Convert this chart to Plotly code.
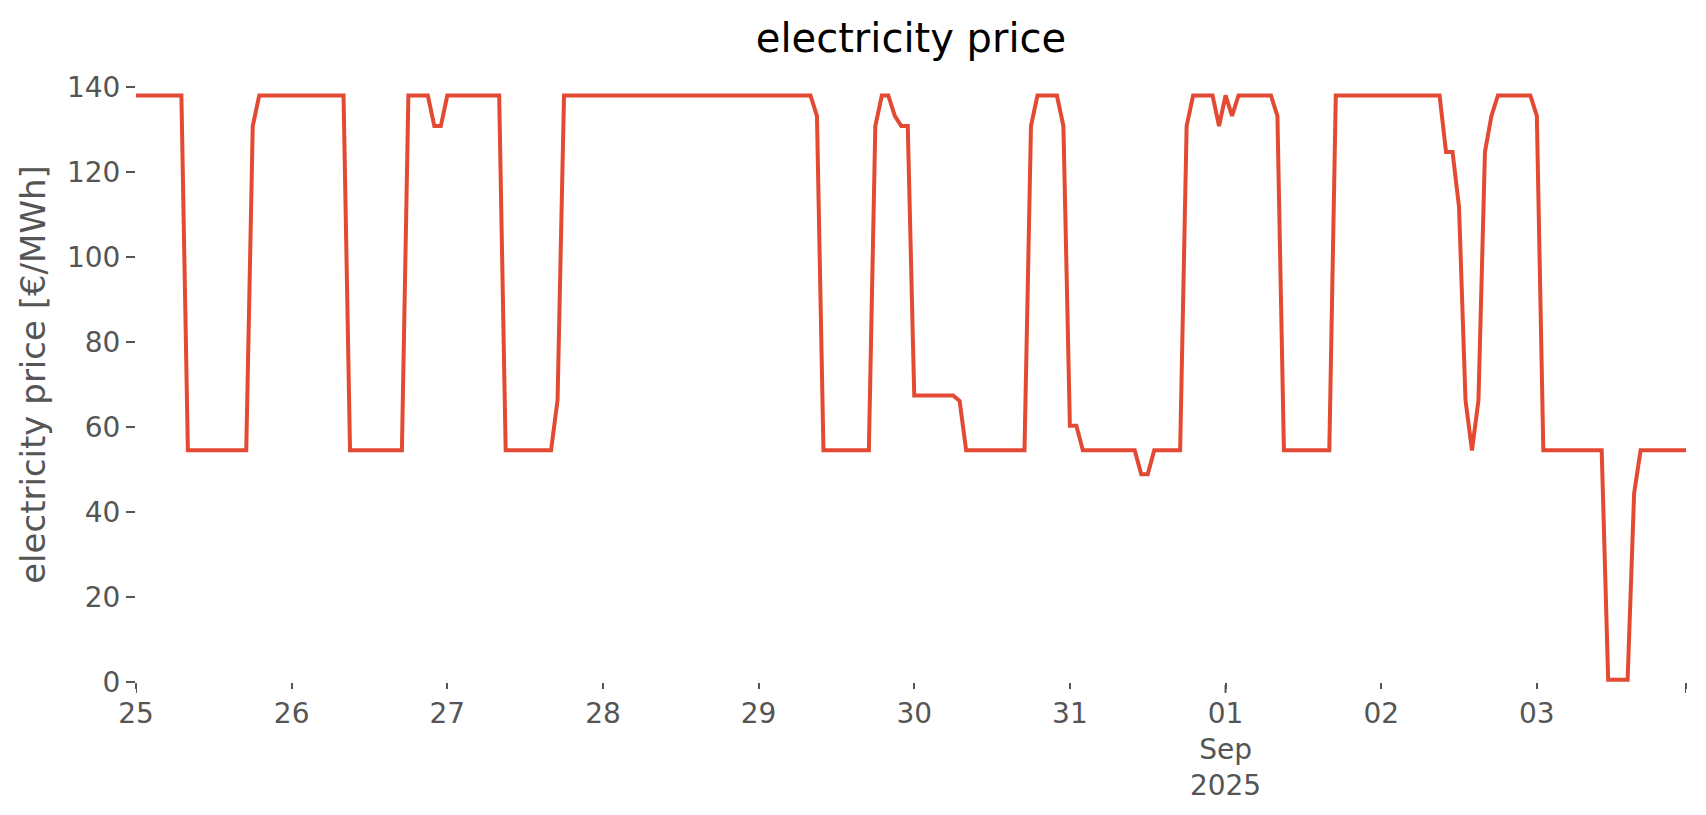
import pandas as pd
import plotly.graph_objects as go

# hourly electricity price, 25 Aug 2025 00:00 .. 03 Sep 2025 23:00 (one row per day, 24 hours)
start = "2025-08-25 00:00"
price_aug25 = [138, 138, 138, 138, 138, 138, 138, 138, 54.5, 54.5, 54.5, 54.5,
               54.5, 54.5, 54.5, 54.5, 54.5, 54.5, 130.8, 138, 138, 138, 138, 138]
price_aug26 = [138, 138, 138, 138, 138, 138, 138, 138, 138, 54.5, 54.5, 54.5,
               54.5, 54.5, 54.5, 54.5, 54.5, 54.5, 138, 138, 138, 138, 130.8, 130.8]
price_aug27 = [138, 138, 138, 138, 138, 138, 138, 138, 138, 54.5, 54.5, 54.5,
               54.5, 54.5, 54.5, 54.5, 54.5, 66.3, 138, 138, 138, 138, 138, 138]
price_aug28 = [138, 138, 138, 138, 138, 138, 138, 138, 138, 138, 138, 138,
               138, 138, 138, 138, 138, 138, 138, 138, 138, 138, 138, 138]
price_aug29 = [138, 138, 138, 138, 138, 138, 138, 138, 138, 133.2, 54.5, 54.5,
               54.5, 54.5, 54.5, 54.5, 54.5, 54.5, 130.8, 138, 138, 133.2, 130.8, 130.8]
price_aug30 = [67.4, 67.4, 67.4, 67.4, 67.4, 67.4, 67.4, 66.1, 54.5, 54.5, 54.5, 54.5,
               54.5, 54.5, 54.5, 54.5, 54.5, 54.5, 130.8, 138, 138, 138, 138, 130.8]
price_aug31 = [60.3, 60.3, 54.5, 54.5, 54.5, 54.5, 54.5, 54.5, 54.5, 54.5, 54.5, 48.9,
               48.9, 54.5, 54.5, 54.5, 54.5, 54.5, 130.8, 138, 138, 138, 138, 130.8]
price_sep01 = [138, 133.2, 138, 138, 138, 138, 138, 138, 133.2, 54.5, 54.5, 54.5,
               54.5, 54.5, 54.5, 54.5, 54.5, 138, 138, 138, 138, 138, 138, 138]
price_sep02 = [138, 138, 138, 138, 138, 138, 138, 138, 138, 138, 124.7, 124.7,
               111.8, 66.3, 54.5, 66.3, 124.7, 133.2, 138, 138, 138, 138, 138, 138]
price_sep03 = [133.2, 54.5, 54.5, 54.5, 54.5, 54.5, 54.5, 54.5, 54.5, 54.5, 54.5, 0.5,
               0.5, 0.5, 0.5, 44.4, 54.5, 54.5, 54.5, 54.5, 54.5, 54.5, 54.5, 54.5]

prices = (price_aug25 + price_aug26 + price_aug27 + price_aug28 + price_aug29 +
          price_aug30 + price_aug31 + price_sep01 + price_sep02 + price_sep03)
times = pd.date_range(start, periods=len(prices), freq="h")

tick_dates = ["2025-08-25", "2025-08-26", "2025-08-27", "2025-08-28", "2025-08-29",
              "2025-08-30", "2025-08-31", "2025-09-01", "2025-09-02", "2025-09-03",
              "2025-09-03 23:00"]
tick_labels = ["25", "26", "27", "28", "29", "30", "31", "01<br>Sep<br>2025", "02", "03", ""]
major_ticks = ["2025-08-25", "2025-09-01", "2025-09-03 23:00"]
y_ticks = [0, 20, 40, 60, 80, 100, 120, 140]

GREY = "#555555"
FONT = "DejaVu Sans"

# page body has an 8px margin, so the figure is sized to fit inside the window
W, H = 1690, 799
OFF = 8

fig = go.Figure()
fig.add_trace(go.Scatter(x=times, y=prices, mode="lines",
                         line=dict(color="#E24A33", width=4), showlegend=False,
                         cliponaxis=False))

shapes = []
for d in major_ticks:
    shapes.append(dict(type="line", xref="x", x0=d, x1=d, yref="paper",
                       ysizemode="pixel", yanchor=0, y0=-3, y1=-11,
                       line=dict(color=GREY, width=2)))

fig.update_layout(
    width=W, height=H,
    margin=dict(l=136 - OFF, r=W + OFF - 1686, t=67 - OFF, b=H + OFF - 682, pad=0,
                autoexpand=False),
    paper_bgcolor="white", plot_bgcolor="white",
    font=dict(family=FONT, color=GREY),
    title=dict(text="electricity price", x=(911 - OFF) / W, xanchor="center",
               y=1 - (38 - OFF) / H, yanchor="middle", yref="container",
               font=dict(family=FONT, size=40, color="black")),
    shapes=shapes,
    xaxis=dict(range=[times[0], times[-1]], showgrid=False, zeroline=False, showline=False,
               automargin=False,
               tickmode="array", tickvals=tick_dates, ticktext=tick_labels,
               ticks="outside", ticklen=6, tickwidth=2, tickcolor=GREY,
               ticklabelstandoff=0,
               tickfont=dict(family=FONT, size=28, color=GREY)),
    yaxis=dict(range=[0, 144.7], showgrid=False, zeroline=False, showline=False,
               automargin=False,
               tickmode="array", tickvals=y_ticks,
               ticks="outside", ticklen=9, tickwidth=2, tickcolor=GREY,
               tickfont=dict(family=FONT, size=28, color=GREY),
               title=dict(text="electricity price [€/MWh]", standoff=11,
                          font=dict(family=FONT, size=34, color=GREY))),
)

fig.write_html("out.html")
